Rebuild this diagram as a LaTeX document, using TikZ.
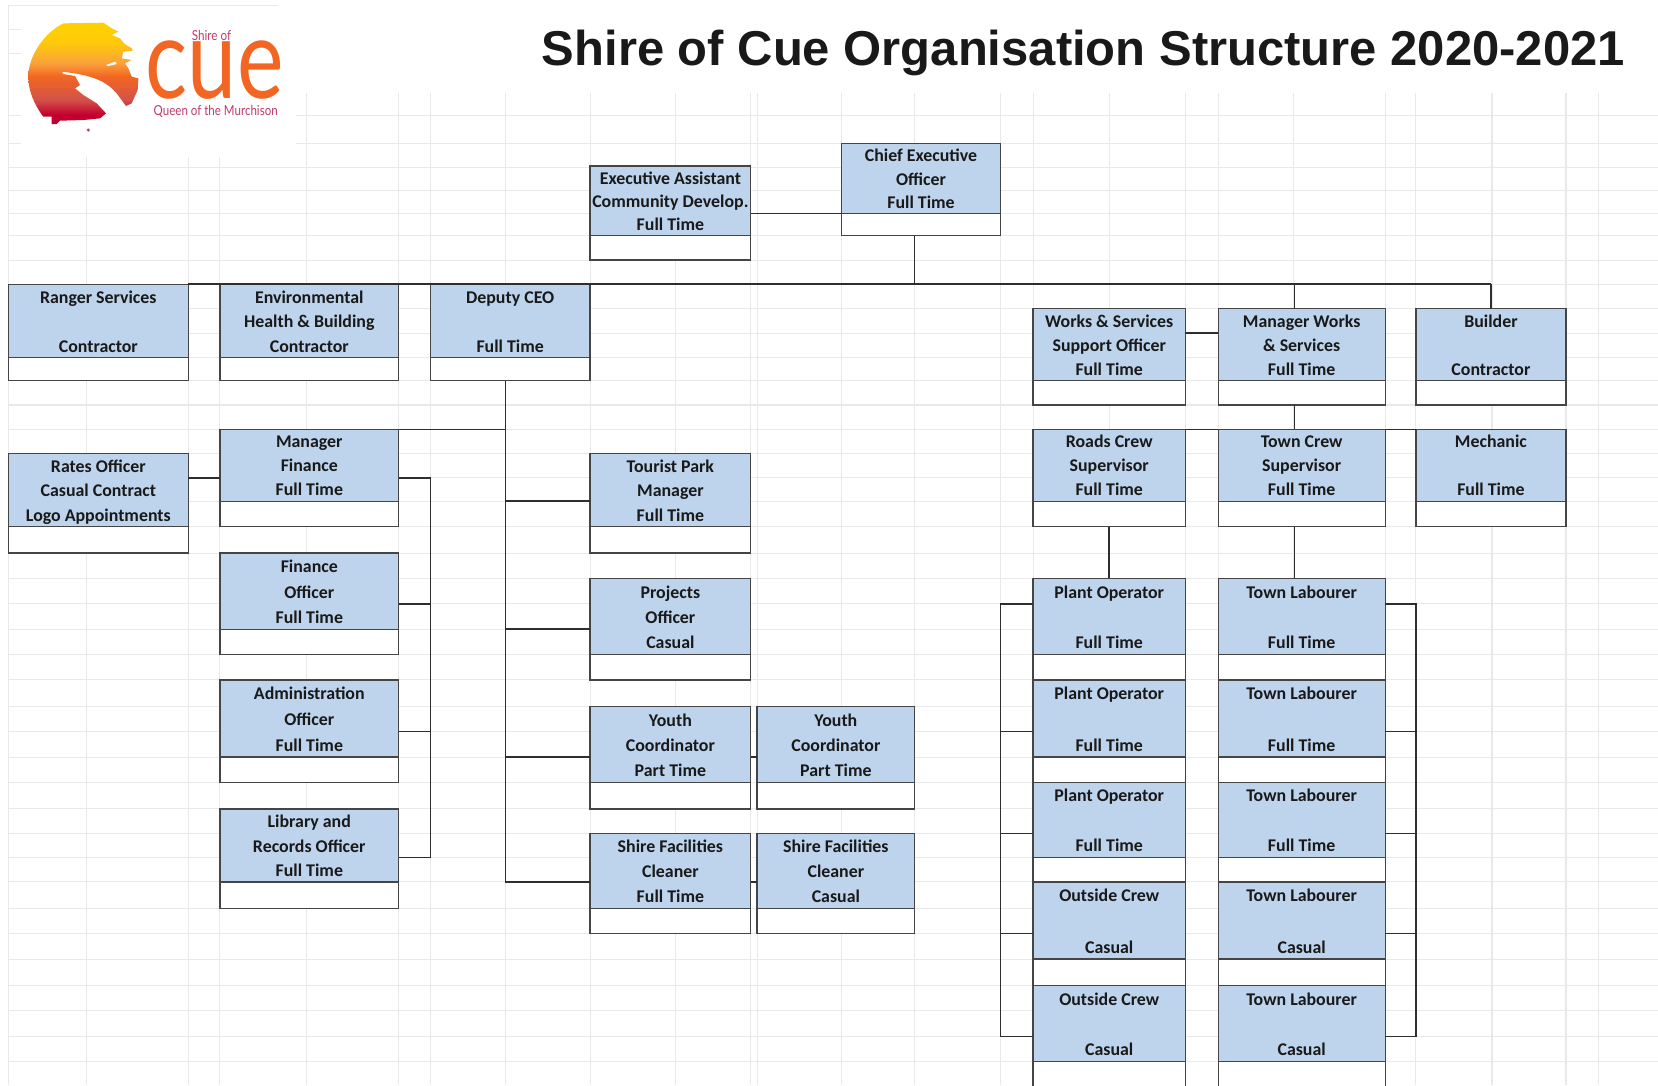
\documentclass[tikz,border=0pt]{standalone}
\usepackage{fontspec}
\usepackage{graphicx}
\setmainfont{Carlito}
\newfontfamily\titlefont{Liberation Sans}
\newfontfamily\logofont{Lato}
\definecolor{gridc}{HTML}{E9E9E9}
\definecolor{boxblue}{HTML}{BDD4EC}
\definecolor{linec}{HTML}{2E2E2E}
\definecolor{boxline}{HTML}{454545}
\definecolor{cueorange}{HTML}{F26522}
\definecolor{cuepink}{HTML}{BE3A6C}
\pgfdeclareverticalshading{cuesun}{100bp}{rgb(0bp)=(.76,0,.18);
  rgb(25bp)=(.76,0,.18);
  rgb(29.5bp)=(.76,0,.18);
  rgb(37bp)=(.83,.32,.29);
  rgb(48.5bp)=(.95,.40,.13);
  rgb(55bp)=(.98,.63,.23);
  rgb(65bp)=(1,.79,.04);
  rgb(75bp)=(1,.82,0);
  rgb(100bp)=(1,.82,0)}
\tikzset{
  gridline/.style={gridc,line width=1pt},
  conn/.style={linec,line width=1.4pt},
  bluepart/.style={draw=boxline,line width=1.2pt,fill=boxblue,inner sep=0pt,outer sep=0pt,align=center,text=black!90},
  whitepart/.style={draw=boxline,line width=1.2pt,fill=white,inner sep=0pt,outer sep=0pt},
}
% name, x1, x2, y-top, y-mid, y-bottom, text
\newcommand\orgbox[7]{%
  \pgfmathsetmacro\lsp{(#5-#4)/3}%
  \node[whitepart,minimum width={(#3-#2)*1pt},minimum height={(#6-#5)*1pt}] (#1b) at ({(#2+#3)/2},{(#5+#6)/2}) {};
  \node[bluepart,minimum width={(#3-#2)*1pt},minimum height={(#5-#4)*1pt},
        font={\fontsize{16.9}{\lsp}\selectfont\bfseries}] (#1) at ({(#2+#3)/2},{(#4+#5)/2}) {\rule{0pt}{\dimexpr.7\baselineskip+1.8pt}#7\rule[\dimexpr-.3\baselineskip+1.8pt]{0pt}{1pt}};
}
\begin{document}
\begin{tikzpicture}[x=1pt,y=-1pt]
\useasboundingbox (0,0) rectangle (1568,1026.1);
\clip (0,0) rectangle (1568,1026.1);
% sheet grid
\foreach \r in {109,136,158,180,202,223,246,269,292,315,338,360,383,406,429,452,474,498,523,547,571,595,619,643,668,692,716,740,765,788,811,834,859,883,907,932,956,980,1004}
  \draw[gridline] (8,\r) -- (1568,\r);
\foreach \c in {8,82,178,208,290,377,407,478,558,639,710,716,796,865,946,977,1049,1121,1152,1223,1310,1339,1411,1481,1512}
  \draw[gridline] (\c,88) -- (\c,1026.1);
\fill[white] (9,0) rectangle (280,148);
\fill[white] (0,0) rectangle (8,4);
\draw[gridline] (8,5) -- (263,5);
\draw[gridline] (8,5) -- (8,88);
\foreach \r in {28,51,109,136}
  \draw[gridline] (8,\r) -- (20,\r);
% logo
\begin{scope}[x=0.3153pt,y=-0.3153pt]
\shade[shading=cuesun] (190,70) -- (310,68) -- (335,85) -- (355,95) -- (335,105) -- (360,115) -- (372,130) -- (395,145) -- (398,152) -- (370,155) -- (365,175) -- (395,180) -- (375,190) -- (385,205) -- (395,230) -- (415,235) -- (413,270) -- (395,310) -- (378,318) -- (350,280) .. controls (320,245) and (280,225) .. (185,215) -- (190,222) -- (225,228) -- (240,255) -- (225,265) -- (250,285) -- (290,310) -- (318,340) -- (300,355) -- (250,360) -- (180,362) -- (170,372) -- (155,372) -- (155,350) -- (130,350) .. controls (100,310) and (85,270) .. (85,230) .. controls (85,170) and (130,100) .. (190,70) -- cycle;
\fill[white] (318,195) -- (345,185) -- (350,192) -- (325,198) -- cycle;
\fill[cuepink] (265,390) circle (5);
\end{scope}
\node[anchor=base,text=cueorange,inner sep=0pt] (cueword) at (203,93.6) {\scalebox{.8}[1.02]{\logofont\fontsize{104}{104}\selectfont cue}};
\node[anchor=base,text=cuepink,inner sep=0pt] (cueshire) at (200,38) {\scalebox{.85}[1]{\logofont\fontsize{13}{13}\selectfont Shire of}};
\node[anchor=base,text=cuepink,inner sep=0pt] (cuequeen) at (204,109) {\scalebox{.84}[1]{\logofont\fontsize{13}{13}\selectfont Queen of the Murchison}};
% title
\node[anchor=base,inner sep=0pt,text=black!90] (title) at (1024.5,62) {\titlefont\bfseries\fontsize{46.3}{50}\selectfont Shire of Cue Organisation Structure 2020-2021};
% boxes
\orgbox{ea}{558}{710}{157}{223}{246}{Executive Assistant\\Community Develop.\\Full Time}
\orgbox{ceo}{796}{946}{136}{202}{223}{Chief Executive\\Officer\\Full Time}
\orgbox{ranger}{8}{178}{269}{338}{360}{Ranger Services\\\strut\\Contractor}
\orgbox{env}{208}{377}{269}{338}{360}{Environmental\\Health \& Building\\Contractor}
\orgbox{dep}{407}{558}{269}{338}{360}{Deputy CEO\\\strut\\Full Time}
\orgbox{wss}{977}{1121}{292}{360}{383}{Works \& Services\\Support Officer\\Full Time}
\orgbox{mw}{1152}{1310}{292}{360}{383}{Manager Works\\\& Services\\Full Time}
\orgbox{bld}{1339}{1481}{292}{360}{383}{Builder\\\strut\\Contractor}
\orgbox{rates}{8}{178}{429}{498}{523}{Rates Officer\\Casual Contract\\Logo Appointments}
\orgbox{mf}{208}{377}{406}{474}{498}{Manager\\Finance\\Full Time}
\orgbox{fo}{208}{377}{523}{595}{619}{Finance\\Officer\\Full Time}
\orgbox{ao}{208}{377}{643}{716}{740}{Administration\\Officer\\Full Time}
\orgbox{lib}{208}{377}{765}{834}{859}{Library and\\Records Officer\\Full Time}
\orgbox{tp}{558}{710}{429}{498}{523}{Tourist Park\\Manager\\Full Time}
\orgbox{po}{558}{710}{547}{619}{643}{Projects\\Officer\\Casual}
\orgbox{ya}{558}{710}{668}{740}{765}{Youth\\Coordinator\\Part Time}
\orgbox{yb}{716}{865}{668}{740}{765}{Youth\\Coordinator\\Part Time}
\orgbox{ca}{558}{710}{788}{859}{883}{Shire Facilities\\Cleaner\\Full Time}
\orgbox{cb}{716}{865}{788}{859}{883}{Shire Facilities\\Cleaner\\Casual}
\orgbox{rc}{977}{1121}{406}{474}{498}{Roads Crew\\Supervisor\\Full Time}
\orgbox{tc}{1152}{1310}{406}{474}{498}{Town Crew\\Supervisor\\Full Time}
\orgbox{mech}{1339}{1481}{406}{474}{498}{Mechanic\\\strut\\Full Time}
\orgbox{pa}{977}{1121}{547}{619}{643}{Plant Operator\\\strut\\Full Time}
\orgbox{pb}{977}{1121}{643}{716}{740}{Plant Operator\\\strut\\Full Time}
\orgbox{pc}{977}{1121}{740}{811}{834}{Plant Operator\\\strut\\Full Time}
\orgbox{oa}{977}{1121}{834}{907}{932}{Outside Crew\\\strut\\Casual}
\orgbox{ob}{977}{1121}{932}{1004}{1040}{Outside Crew\\\strut\\Casual}
\orgbox{la}{1152}{1310}{547}{619}{643}{Town Labourer\\\strut\\Full Time}
\orgbox{lb}{1152}{1310}{643}{716}{740}{Town Labourer\\\strut\\Full Time}
\orgbox{lc}{1152}{1310}{740}{811}{834}{Town Labourer\\\strut\\Full Time}
\orgbox{ld}{1152}{1310}{834}{907}{932}{Town Labourer\\\strut\\Casual}
\orgbox{le}{1152}{1310}{932}{1004}{1040}{Town Labourer\\\strut\\Casual}
% connectors
\coordinate (tophub) at (865,269);
\coordinate (depbus) at (478,406);
\draw[conn] (ea.east |- 0,202) -- (ceo.west |- 0,202);
\draw[conn] (ceob.south -| tophub) -- (tophub);
\draw[conn,line width=1.8pt] (ranger.north east) -- (bld.north |- tophub);
\draw[conn] (mw.north -| 1224,0) -- (1224,269);
\draw[conn] (bld.north) -- (bld.north |- tophub);
\draw[conn] (wss.east |- 0,315) -- (mw.west |- 0,315);
\draw[conn] (mwb.south -| 1224,0) -- (tc.north -| 1224,0);
\draw[conn] (rc.north east) -- (tc.north west);
\draw[conn] (tc.north east) -- (mech.north west);
\draw[conn] (depb.south -| depbus) -- (lib.south -| depbus) ;
\draw[conn] (mf.north east) -- (mf.north east -| depbus);
\draw[conn] (depbus |- 0,474) -- (tp.west |- 0,474);
\draw[conn] (depbus |- 0,595) -- (po.west |- 0,595);
\draw[conn] (depbus |- 0,716) -- (ya.west |- 0,716);
\draw[conn] (depbus |- 0,834) -- (ca.west |- 0,834);
\draw[conn] (rates.east |- 0,452) -- (mf.west |- 0,452);
\draw[conn] (mf.east |- 0,452) -- (407,452) -- (407,811) -- (lib.east |- 0,811);
\draw[conn] (fo.east |- 0,571) -- (407,571);
\draw[conn] (ao.east |- 0,692) -- (407,692);
\draw[conn] (ya.east |- 0,716) -- (yb.west |- 0,716);
\draw[conn] (ca.east |- 0,834) -- (cb.west |- 0,834);
\draw[conn] (rcb.south -| 1049,0) -- (pa.north -| 1049,0);
\draw[conn] (tcb.south -| 1224,0) -- (la.north -| 1224,0);
\draw[conn] (pa.west |- 0,571) -- (946,571) -- (946,980) -- (ob.west |- 0,980);
\draw[conn] (pb.west |- 0,692) -- (946,692);
\draw[conn] (pc.west |- 0,788) -- (946,788);
\draw[conn] (oa.west |- 0,883) -- (946,883);
\draw[conn] (la.east |- 0,571) -- (1339,571) -- (1339,980) -- (le.east |- 0,980);
\draw[conn] (lb.east |- 0,692) -- (1339,692);
\draw[conn] (lc.east |- 0,788) -- (1339,788);
\draw[conn] (ld.east |- 0,883) -- (1339,883);
\end{tikzpicture}
\end{document}
